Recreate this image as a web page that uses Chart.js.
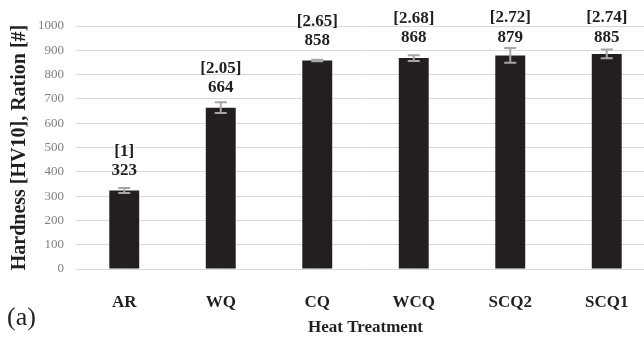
<!DOCTYPE html>
<html>
<head>
<meta charset="utf-8">
<script src="https://cdn.jsdelivr.net/npm/chart.js@4.4.1/dist/chart.umd.min.js"></script>
<style>
  html, body { margin: 0; padding: 0; background: #fff; overflow: hidden; }
  #wrap { position: relative; width: 655px; height: 340px; }
</style>
</head>
<body>
<div id="wrap"><canvas id="chart" width="655" height="340"></canvas></div>
<script>
// Data
const treatments = ['AR', 'WQ', 'CQ', 'WCQ', 'SCQ2', 'SCQ1'];
const hardness = [323, 664, 858, 868, 879, 885];
const ratios = ['1', '2.05', '2.65', '2.68', '2.72', '2.74'];
const errors = [10, 22, 3, 12, 30, 18];
const yTicks = [0, 100, 200, 300, 400, 500, 600, 700, 800, 900, 1000];

const serif = '"Liberation Serif", serif';

// error bars + two-line labels above each bar
const barExtras = {
    id: 'barExtras',
    afterDatasetsDraw(chart) {
        const ctx = chart.ctx;
        const y = chart.scales.y;
        const meta = chart.getDatasetMeta(0);
        ctx.save();
        meta.data.forEach((bar, i) => {
            const hi = y.getPixelForValue(hardness[i] + errors[i]);
            const lo = y.getPixelForValue(hardness[i] - errors[i]);
            ctx.strokeStyle = '#a6a6a6';
            ctx.lineWidth = 2;
            ctx.beginPath();
            ctx.moveTo(bar.x, hi); ctx.lineTo(bar.x, lo);
            ctx.moveTo(bar.x - 6, hi); ctx.lineTo(bar.x + 6, hi);
            ctx.moveTo(bar.x - 6, lo); ctx.lineTo(bar.x + 6, lo);
            ctx.stroke();

            ctx.fillStyle = '#231f20';
            ctx.font = 'bold 17px ' + serif;
            ctx.textAlign = 'center';
            ctx.textBaseline = 'middle';
            ctx.fillText(String(hardness[i]), bar.x, Math.max(bar.y - 20, 38));
            ctx.fillText('[' + ratios[i] + ']', bar.x, Math.max(bar.y - 39, 18));
        });
        // panel letter
        ctx.fillStyle = '#231f20';
        ctx.font = '26px ' + serif;
        ctx.textAlign = 'left';
        ctx.fillText('(a)', 7, 318);
        ctx.restore();
    }
};

new Chart(document.getElementById('chart'), {
    type: 'bar',
    data: {
        labels: treatments,
        datasets: [{
            data: hardness,
            backgroundColor: '#231f20',
            borderWidth: 0,
            categoryPercentage: 1,
            barPercentage: 0.31
        }]
    },
    options: {
        responsive: false,
        animation: false,
        layout: { padding: { top: 26, right: 0, bottom: 0, left: 0 } },
        plugins: {
            legend: { display: false },
            tooltip: { enabled: false }
        },
        scales: {
            x: {
                grid: { display: false },
                border: { display: false },
                ticks: {
                    color: '#231f20',
                    padding: 15,
                    font: { family: serif, size: 17, weight: 'bold' }
                },
                title: {
                    display: true,
                    text: 'Heat Treatment',
                    color: '#231f20',
                    padding: { top: 0, bottom: 2 },
                    font: { family: serif, size: 17, weight: 'bold' }
                },
                afterFit(scale) { scale.height = 71; }
            },
            y: {
                min: 0,
                max: 1000,
                afterBuildTicks(scale) { scale.ticks = yTicks.map(v => ({ value: v })); },
                grid: { color: '#d9d9d9', lineWidth: 1, drawTicks: false },
                border: { display: false },
                ticks: {
                    color: '#808080',
                    padding: 12,
                    font: { family: serif, size: 13 },
                    callback: v => String(v)
                },
                title: {
                    display: true,
                    text: 'Hardness [HV10], Ration [#]',
                    color: '#231f20',
                    padding: { top: 8, bottom: 0 },
                    font: { family: serif, size: 20, weight: 'bold' }
                },
                afterFit(scale) { scale.width = 76; }
            }
        }
    },
    plugins: [barExtras]
});
</script>
</body>
</html>
